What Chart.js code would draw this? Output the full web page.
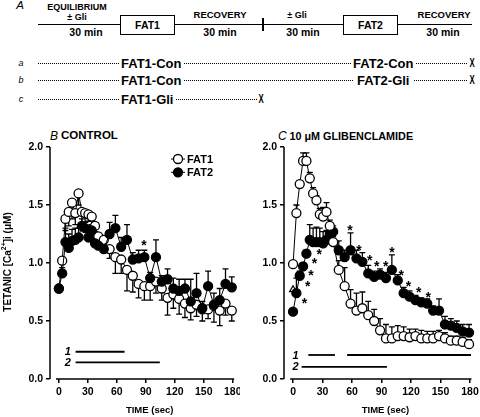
<!DOCTYPE html>
<html><head><meta charset="utf-8">
<script src="https://cdn.jsdelivr.net/npm/chart.js@4.4.1/dist/chart.umd.min.js"></script>
<style>
html,body{margin:0;padding:0;background:#fff;}
#wrap{position:relative;width:480px;height:417px;overflow:hidden;font-family:"Liberation Sans",Arial,Helvetica,sans-serif;color:#000;}
.t{position:absolute;white-space:nowrap;line-height:1;font-weight:bold;transform:translate(-50%,-50%);}
.l{position:absolute;white-space:nowrap;line-height:1;font-weight:bold;transform:translateY(-50%);}
.i{font-style:italic;font-weight:normal;}
.hl{position:absolute;background:#000;}
.box{position:absolute;box-sizing:border-box;border:1px solid #000;background:#fff;display:flex;align-items:center;justify-content:center;font-weight:bold;font-size:10.5px;}
.dot{position:absolute;height:1px;background-image:linear-gradient(to right,#000 50%,rgba(0,0,0,0) 50%);background-size:2px 1px;}
.rt{background:#fff;padding:0 2px;font-size:13px;}
.x{position:absolute;font-weight:bold;font-size:12px;line-height:1;transform:translate(-50%,-50%) scaleX(0.65);}
canvas{position:absolute;}
</style></head>
<body><div id="wrap">
<!-- Panel A -->
<div class="t i" style="left:20px;top:6px;font-size:11.5px">A</div>
<div class="hl" style="left:38px;top:24px;width:434px;height:1px"></div>
<div class="t" style="left:77px;top:7px;font-size:9px">EQUILIBRIUM</div>
<div class="t" style="left:77px;top:17px;font-size:9px">± Gli</div>
<div class="t" style="left:86px;top:32px;font-size:10.5px">30 min</div>
<div class="box" style="left:120px;top:15px;width:55px;height:20px">FAT1</div>
<div class="t" style="left:220px;top:15px;font-size:9.5px">RECOVERY</div>
<div class="t" style="left:220px;top:32px;font-size:10.5px">30 min</div>
<div class="hl" style="left:262px;top:18px;width:2px;height:13px"></div>
<div class="t" style="left:297px;top:15px;font-size:9px">± Gli</div>
<div class="t" style="left:303px;top:32px;font-size:10.5px">30 min</div>
<div class="box" style="left:343px;top:15px;width:55px;height:20px">FAT2</div>
<div class="t" style="left:444px;top:15px;font-size:9.5px">RECOVERY</div>
<div class="t" style="left:443px;top:32px;font-size:10.5px">30 min</div>

<div class="t i" style="left:21px;top:63px;font-size:9px">a</div>
<div class="dot" style="left:38px;top:63px;width:430px"></div>
<div class="l rt" style="left:119px;top:63px">FAT1-Con</div>
<div class="l rt" style="left:351px;top:63px">FAT2-Con</div>
<div class="x" style="left:472px;top:63px">X</div>

<div class="t i" style="left:21px;top:80px;font-size:9px">b</div>
<div class="dot" style="left:38px;top:80px;width:430px"></div>
<div class="l rt" style="left:119px;top:80px">FAT1-Con</div>
<div class="l rt" style="left:353px;top:80px;padding:0 4px">FAT2-Gli</div>
<div class="x" style="left:472px;top:80px">X</div>

<div class="t i" style="left:21px;top:99px;font-size:9px">c</div>
<div class="dot" style="left:38px;top:99px;width:220px"></div>
<div class="l rt" style="left:119px;top:99px">FAT1-Gli</div>
<div class="x" style="left:261px;top:99px">X</div>

<!-- Panel headings -->
<div class="l i" style="left:50px;top:136px;font-size:12px">B</div>
<div class="l" style="left:61px;top:136px;font-size:11.5px">CONTROL</div>
<div class="l i" style="left:278px;top:136px;font-size:12px">C</div>
<div class="l" style="left:289.5px;top:136px;font-size:10.8px">10 μM GLIBENCLAMIDE</div>

<canvas id="cB" width="240" height="277" style="left:0;top:140px;width:240px;height:277px"></canvas>
<canvas id="cC" width="240" height="277" style="left:240px;top:140px;width:240px;height:277px"></canvas>
</div>
<script>
// ---------- DATA ----------
const times = [0, 3.4, 6.8, 10.2, 13.6, 17, 20.4, 23.8, 27.2, 30.6, 34, 37.4, 40.8,
  46.5, 52.5, 58.5, 64.5, 70.5, 76.5, 82.5, 88.5, 94.5, 100.5, 106.5, 112.5, 118.5,
  124.5, 130.5, 136.5, 142.5, 148.5, 154.5, 160.5, 166.5, 172.5, 179];

// B CONTROL
const ctrlFat1 = [0.78, 1.02, 1.38, 1.44, 1.52, 1.43, 1.60, 1.44, 1.43, 1.42, 1.40, 1.32, 1.23,
  1.20, 1.12, 1.05, 1.03, 0.94, 0.89, 0.82, 0.80, 0.80, 0.84, 0.78, 0.70, 0.73,
  0.69, 0.65, 0.61, 0.64, 0.60, 0.60, 0.63, 0.59, 0.65, 0.59];
const ctrlFat1Err = [0.00, 0.03, 0.10, 0.12, 0.14, 0.10, 0.10, 0.10, 0.08, 0.06, 0.08, 0.05, 0.05,
  0.06, 0.08, 0.14, 0.12, 0.18, 0.14, 0.12, 0.12, 0.12, 0.10, 0.10, 0.15, 0.12,
  0.13, 0.12, 0.10, 0.10, 0.10, 0.08, 0.14, 0.13, 0.10, 0.09];
const ctrlFat2 = [0.78, 0.91, 1.18, 1.13, 1.19, 1.20, 1.22, 1.32, 1.30, 1.22, 1.28, 1.17, 1.15,
  1.12, 1.25, 1.30, 1.14, 1.20, 1.03, 1.04, 1.05, 0.87, 1.05, 0.84, 0.86, 0.78,
  0.76, 0.78, 0.67, 0.74, 0.61, 0.80, 0.64, 0.68, 0.82, 0.79];
const ctrlFat2Err = [0.00, 0.05, 0.12, 0.12, 0.10, 0.10, 0.08, 0.06, 0.05, 0.05, 0.05, 0.05, 0.05,
  0.05, 0.10, 0.11, 0.08, 0.13, 0.06, 0.07, 0.06, 0.05, 0.15, 0.05, 0.09, 0.09,
  0.10, 0.08, 0.19, 0.17, 0.06, 0.13, 0.10, 0.10, 0.13, 0.09];
const ctrlStarT = [88];
const ctrlStarV = [1.18];
const ctrlBar1 = [[17.3, 68]];
const ctrlBar2 = [[17.3, 104.5]];
const ctrlBarLevels = [0.235, 0.144];

// C 10 uM GLIBENCLAMIDE
const glibFat1 = [0.99, 1.43, 1.68, 1.88, 1.88, 1.73, 1.60, 1.54, 1.42, 1.40, 1.44, 1.32, 1.18,
  0.94, 0.80, 0.65, 0.59, 0.61, 0.55, 0.50, 0.42, 0.35, 0.35, 0.37, 0.37, 0.36,
  0.37, 0.35, 0.35, 0.35, 0.37, 0.35, 0.33, 0.33, 0.32, 0.30];
const glibFat1Err = [0.00, 0.07, 0.03, 0.07, 0.07, 0.05, 0.05, 0.04, 0.05, 0.08, 0.08, 0.05, 0.05,
  0.08, 0.16, 0.12, 0.15, 0.14, 0.12, 0.10, 0.10, 0.12, 0.10, 0.09, 0.08, 0.07,
  0.06, 0.07, 0.06, 0.06, 0.05, 0.05, 0.04, 0.04, 0.04, 0.04];
const glibFat2 = [0.58, 0.74, 0.89, 0.97, 1.08, 1.20, 1.18, 1.18, 1.18, 1.17, 1.20, 1.25, 1.27,
  1.11, 1.05, 1.11, 1.04, 1.01, 0.91, 0.88, 0.90, 0.87, 0.94, 0.85, 0.74, 0.71,
  0.68, 0.66, 0.65, 0.59, 0.59, 0.47, 0.46, 0.44, 0.41, 0.40];
const glibFat2Err = [0.00, 0.13, 0.04, 0.03, 0.03, 0.13, 0.12, 0.13, 0.12, 0.10, 0.08, 0.08, 0.05,
  0.08, 0.06, 0.15, 0.07, 0.08, 0.07, 0.05, 0.05, 0.05, 0.13, 0.05, 0.05, 0.05,
  0.04, 0.04, 0.04, 0.04, 0.10, 0.07, 0.06, 0.06, 0.06, 0.07];
const glibTriT = [0];
const glibTriV = [0.77];
const glibStarT = [11.5, 15, 18.3, 21.7, 26.5, 58, 67, 78, 85, 94.3, 100.7, 110, 117.5, 127.8, 137.5];
const glibStarV = [0.68, 0.83, 0.925, 1.03, 1.10, 1.31, 1.14, 1.05, 1.0, 1.0, 1.125, 0.925, 0.83, 0.78, 0.73];
const glibBar1 = [[15.5, 42.6], [55, 181]];
const glibBar2 = [[8.7, 95.5]];
const glibBarLevels = [0.207, 0.104];

const xTicks = [0, 30, 60, 90, 120, 150, 180];
const yTicks = [0, 0.5, 1.0, 1.5, 2.0];
const seriesNames = ['FAT1', 'FAT2'];

// ---------- DRAWING ----------
const FONT = '"Liberation Sans", Arial, Helvetica, sans-serif';
Chart.defaults.font.family = FONT;
Chart.defaults.color = '#000';

const pts = (ts, vs) => ts.map((t, i) => ({x: t, y: vs[i]}));

function seriesDS(ts, vs, err, dir, filled) {
  return {data: pts(ts, vs), err: err, errDir: dir, showLine: true, borderColor: '#000', borderWidth: 1,
    pointRadius: 4.5, pointHoverRadius: 4.5, pointBorderWidth: 1.3,
    pointBackgroundColor: filled ? '#000' : '#fff', pointBorderColor: '#000', clip: false};
}
function barDS(seg, level) {
  return {data: [{x: seg[0], y: level}, {x: seg[1], y: level}], showLine: true, pointRadius: 0,
    borderColor: '#000', borderWidth: 1.8, clip: false};
}

const errPlugin = {
  id: 'errbars',
  beforeDatasetsDraw(chart) {
    const ctx = chart.ctx, xs = chart.scales.x, ys = chart.scales.y;
    ctx.save(); ctx.strokeStyle = '#000'; ctx.lineWidth = 1.3;
    chart.data.datasets.forEach(ds => {
      if (!ds.err) return;
      ds.data.forEach((p, i) => {
        const e = ds.err[i]; if (!e) return;
        const x = xs.getPixelForValue(p.x);
        const y0 = ys.getPixelForValue(p.y);
        const y1 = ys.getPixelForValue(p.y + ds.errDir * e);
        ctx.beginPath(); ctx.moveTo(x, y0); ctx.lineTo(x, y1);
        ctx.moveTo(x - 3, y1); ctx.lineTo(x + 3, y1); ctx.stroke();
      });
    });
    ctx.restore();
  }
};

const annotPlugin = {
  id: 'annot',
  afterDraw(chart, args, o) {
    const ctx = chart.ctx, a = chart.chartArea, xs = chart.scales.x, ys = chart.scales.y;
    ctx.save();
    ctx.strokeStyle = '#000'; ctx.fillStyle = '#000'; ctx.lineWidth = 1.5;
    // axis lines
    ctx.beginPath(); ctx.moveTo(a.left, a.top); ctx.lineTo(a.left, a.bottom); ctx.stroke();
    ctx.beginPath(); ctx.moveTo(xs.getPixelForValue(-3), a.bottom); ctx.lineTo(a.right, a.bottom); ctx.stroke();
    // stars
    ctx.font = 'bold 14px ' + FONT; ctx.textAlign = 'center'; ctx.textBaseline = 'alphabetic';
    o.starT.forEach((t, i) => ctx.fillText('*', xs.getPixelForValue(t), ys.getPixelForValue(o.starV[i]) + 8));
    // bar labels
    ctx.font = 'italic bold 11px ' + FONT; ctx.textAlign = 'right'; ctx.textBaseline = 'middle';
    o.barLevels.forEach((lv, i) => ctx.fillText(String(i + 1), xs.getPixelForValue(o.barLabelT), ys.getPixelForValue(lv) + 0.5));
    // x title
    ctx.font = 'bold 9.5px ' + FONT; ctx.textAlign = 'center'; ctx.textBaseline = 'middle';
    ctx.fillText('TIME (sec)', xs.getPixelForValue(94), chart.height - 7);
    // y title with superscript
    if (o.yTitle) {
      ctx.translate(8, (a.top + a.bottom) / 2 - 1);
      ctx.rotate(-Math.PI / 2);
      const f1 = 'bold 10px ' + FONT, f2 = 'bold 7px ' + FONT;
      const p1 = 'TETANIC [Ca', p2 = '2+', p3 = ']i (μM)';
      ctx.font = f1; const w1 = ctx.measureText(p1).width, w3 = ctx.measureText(p3).width;
      ctx.font = f2; const w2 = ctx.measureText(p2).width;
      let x0 = -(w1 + w2 + w3) / 2;
      ctx.textAlign = 'left';
      ctx.font = f1; ctx.fillText(p1, x0, 0);
      ctx.font = f2; ctx.fillText(p2, x0 + w1, -3.5);
      ctx.font = f1; ctx.fillText(p3, x0 + w1 + w2, 0);
      ctx.setTransform(1, 0, 0, 1, 0, 0);
    }
    // legend
    if (o.legend) {
      ctx.font = 'bold 11px ' + FONT; ctx.textAlign = 'left'; ctx.textBaseline = 'middle';
      const rowsY = [19, 32.3];
      rowsY.forEach((y, i) => {
        const filled = i === 1;
        ctx.lineWidth = 1;
        ctx.beginPath(); ctx.moveTo(171, y); ctx.lineTo(185, y); ctx.stroke();
        ctx.beginPath(); ctx.arc(178, y, 4.5, 0, Math.PI * 2);
        ctx.fillStyle = filled ? '#000' : '#fff'; ctx.fill();
        ctx.lineWidth = 1.3; ctx.stroke();
        ctx.fillStyle = '#000';
        ctx.fillText(seriesNames[i], 187, y + 0.5);
      });
    }
    ctx.restore();
  }
};

function makeChart(id, datasets, yWidth, padRight, annot) {
  const tickFont = {family: FONT, size: 10.5, weight: 'bold'};
  return new Chart(document.getElementById(id), {
    type: 'scatter',
    data: {datasets: datasets},
    plugins: [errPlugin, annotPlugin],
    options: {
      responsive: false, animation: false, devicePixelRatio: 1,
      layout: {padding: {left: 0, right: padRight, top: 7, bottom: 0}},
      plugins: {legend: {display: false}, tooltip: {enabled: false}, annot: annot},
      events: [],
      scales: {
        x: {type: 'linear', min: -9.2, max: 181.5,
          afterBuildTicks: s => { s.ticks = xTicks.map(v => ({value: v})); },
          afterFit: s => { s.height = 38; s.paddingLeft = 0; s.paddingRight = 0; },
          grid: {drawOnChartArea: false, drawTicks: true, tickLength: 4, color: '#000', lineWidth: 1.5},
          border: {display: false},
          ticks: {font: tickFont, color: '#000', padding: 3, maxRotation: 0, autoSkip: false}
        },
        y: {type: 'linear', min: 0, max: 2,
          afterBuildTicks: s => { s.ticks = yTicks.map(v => ({value: v})); },
          afterFit: s => { s.width = yWidth; s.paddingTop = 0; s.paddingBottom = 0; },
          grid: {drawOnChartArea: false, drawTicks: true, tickLength: 4, color: '#000', lineWidth: 1.5},
          border: {display: false},
          ticks: {font: tickFont, color: '#000', padding: 3, callback: v => Number(v).toFixed(1)}
        }
      }
    }
  });
}

// left panel: filled FAT2 drawn on top (dataset 0 is drawn last)
const dsB = [
  seriesDS(times, ctrlFat2, ctrlFat2Err, 1, true),
  seriesDS(times, ctrlFat1, ctrlFat1Err, -1, false),
  ...ctrlBar1.map(s => barDS(s, ctrlBarLevels[0])),
  ...ctrlBar2.map(s => barDS(s, ctrlBarLevels[1]))
];
makeChart('cB', dsB, 50, 2.5, {starT: ctrlStarT, starV: ctrlStarV, barLevels: ctrlBarLevels, barLabelT: 12.3, yTitle: true, legend: true});

const dsC = [
  seriesDS(times, glibFat1, glibFat1Err, 1, false),
  seriesDS(times, glibFat2, glibFat2Err, 1, true),
  {data: pts(glibTriT, glibTriV), pointStyle: 'triangle', pointRadius: 4, pointBorderWidth: 1.2,
    pointBackgroundColor: '#fff', pointBorderColor: '#000', clip: false},
  ...glibBar1.map(s => barDS(s, glibBarLevels[0])),
  ...glibBar2.map(s => barDS(s, glibBarLevels[1]))
];
makeChart('cC', dsC, 44, 8.5, {starT: glibStarT, starV: glibStarV, barLevels: glibBarLevels, barLabelT: 5.6, yTitle: false, legend: false});
</script>
</body></html>
